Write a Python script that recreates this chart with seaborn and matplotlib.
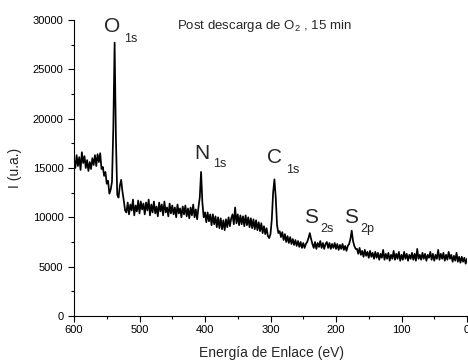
import numpy as np
import pandas as pd
import matplotlib
matplotlib.use("Agg")
import matplotlib.pyplot as plt
import seaborn as sns
from matplotlib.ticker import MultipleLocator

# ---- data (2 eV steps, descending binding energy) ----
seg_600 = [15900, 15000, 16300, 15200, 16100, 14800, 16600, 15500, 16200, 15000,
           15800, 14700, 15600, 14900, 16000]
seg_570 = [15300, 16300, 15200, 16400, 15600, 16500, 14900, 15100, 14200, 14600,
           13400, 13700, 12400, 12800, 13600, 19000, 27700, 18000, 12300, 12000,
           13200, 13800, 12600, 11700, 10700]
seg_520 = [10500, 11500, 10300, 11300, 10700, 11800, 10200, 11200, 10600, 11700,
           10400, 11600, 10800, 11400, 10300, 11500, 10700, 11800, 10200, 11300,
           10500, 11600, 10400, 11100, 10100, 11500, 10600, 11300, 10200, 11600,
           10500, 11000, 10100, 11400, 10400, 11200, 10300, 11000, 10000, 11300,
           10400, 10900, 10000, 11100, 10300, 11200, 10100, 10900, 9900, 11000,
           10200, 11300, 10000, 10800, 9800, 11000]
seg_408 = [12000, 14600, 11500, 10000]
seg_400 = [10500, 9500, 10500, 9600, 10300, 9200, 10300, 9300, 10100, 9000,
           10000, 8900, 9900, 8800, 9700, 8700, 9800, 9000, 10000, 9100]
seg_360 = [9900, 10300, 9300, 11000, 9400, 10300, 9200, 10200, 9300, 10100,
           9100, 10200, 9200, 10000, 9000, 9900, 8900, 9800, 8800, 9700,
           8700, 9500, 8600, 9400, 8400, 9100, 8300, 8900, 8100, 7900]
seg_300 = [8300, 9800, 12500, 13850, 12000, 9200, 8400, 8600]
seg_284 = [8000, 8500, 7700, 8300, 7500, 8100, 7400, 8000, 7300, 7800,
           7200, 7700, 7100, 7600, 7000, 7500, 6900, 7400, 6900, 7300, 7500]
seg_242 = [7900, 8400, 7800, 7300]
seg_234 = [6900, 7500, 6800, 7400, 7000, 7600, 6900, 7400, 6800, 7300,
           7500, 6900, 7400, 6800, 7300, 6900, 7400, 6800, 7300, 6700,
           7200, 6800, 7300, 6700, 7100, 6600, 7100, 7300]
seg_178 = [7800, 8650, 7600, 7100, 6800]
seg_168 = [6800, 6300, 6900, 6200, 6600, 6000, 6700, 6100, 6500, 5900,
           6600, 6000, 6400, 5800, 6500, 5900, 6400, 5700, 6300, 5900,
           6700, 5700, 6300, 5800, 6400, 5600, 6200, 5800, 6600, 5700,
           6300, 5800, 6500, 5600, 6200, 5700, 6500, 5800, 6300, 5600,
           6200, 5800, 6400, 5700, 6300, 5600, 6800, 5800, 6200, 5700,
           6400, 5800, 6300, 5600, 6200, 5900, 6500, 5700, 6300, 5600,
           6200, 5800, 6700, 5700, 6300, 5800, 6400, 5600, 6200, 5700,
           6500, 5800, 6200, 5500, 6100, 5600, 6400, 5500, 6000, 5400,
           6000, 5500, 5900, 5300, 5800]

segments = [(600, seg_600), (570, seg_570), (520, seg_520), (408, seg_408),
            (400, seg_400), (360, seg_360), (300, seg_300), (284, seg_284),
            (242, seg_242), (234, seg_234), (178, seg_178), (168, seg_168)]

energy = np.concatenate([start - 2 * np.arange(len(v)) for start, v in segments])
intensity = np.concatenate([v for _, v in segments])
df = pd.DataFrame({"E": energy, "I": intensity})

x_ticks = [600, 500, 400, 300, 200, 100, 0]
y_ticks = [0, 5000, 10000, 15000, 20000, 25000, 30000]

peak_labels = [("O", "1s", 554, 28780, 523.5, 27820),
               ("N", "1s", 416.5, 15880, 388, 15130),
               ("C", "1s", 306, 15510, 276, 14520),
               ("S", "2s", 249, 9430, 223.5, 8480),
               ("S", "2p", 187.5, 9430, 162.5, 8480)]
title_text = "Post descarga de O$_\\mathregular{2}$ , 15 min"

# ---- plot ----
sns.set_style("ticks")
plt.rcParams["font.family"] = ["Liberation Sans", "DejaVu Sans"]
plt.rcParams["mathtext.fontset"] = "custom"
plt.rcParams["mathtext.rm"] = "Liberation Sans"

fig = plt.figure(figsize=(4.68, 3.62), dpi=100)
ax = fig.add_axes([74 / 468, 1 - 316 / 362, 393 / 468, 296 / 362])

sns.lineplot(data=df, x="E", y="I", color="black", linewidth=1.25,
             estimator=None, sort=False, ax=ax)

ax.set_xlim(600, 0)
ax.set_ylim(0, 30000)
ax.set_xticks(x_ticks)
ax.set_yticks(y_ticks)
ax.xaxis.set_minor_locator(MultipleLocator(50))
ax.yaxis.set_minor_locator(MultipleLocator(2500))
ax.tick_params(axis="both", which="major", length=4, width=0.8,
               labelsize=8, color="black", labelcolor="black")
ax.tick_params(axis="both", which="minor", length=2, width=0.8, color="black")
ax.tick_params(axis="x", which="major", pad=2.5)
ax.tick_params(axis="y", which="major", pad=3.5)
for s in ["left", "bottom"]:
    ax.spines[s].set_linewidth(0.8)
    ax.spines[s].set_color("black")
sns.despine(ax=ax)

ax.set_xlabel("Energía de Enlace (eV)", fontsize=10)
ax.set_ylabel("I (u.a.)", fontsize=10)
ax.xaxis.set_label_coords(0.5025, -0.103)
ax.yaxis.set_label_coords(-0.133, 0.5)

for big, sub, xb, yb, xs, ys in peak_labels:
    ax.text(xb, yb, big, fontsize=15, ha="left", va="baseline")
    ax.text(xs, ys, sub, fontsize=9, ha="left", va="baseline")

ax.text(442.5, 29090, title_text, fontsize=9.5, ha="left", va="baseline")

fig.savefig("out.png", dpi=100)
